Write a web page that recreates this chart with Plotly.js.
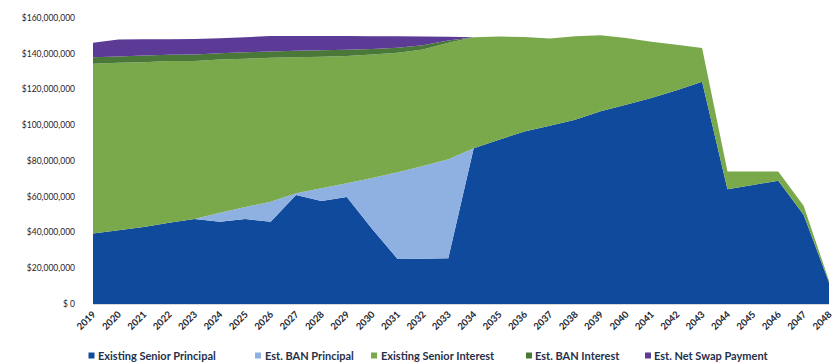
<!DOCTYPE html>
<html>
<head>
<meta charset="utf-8">
<script src="https://cdn.plot.ly/plotly-3.0.1.min.js"></script>
<style>
  html, body { margin: 0; padding: 0; background: #ffffff; }
  #chart { width: 835px; height: 362px; }
</style>
</head>
<body>
<div id="chart"></div>
<script>
// Annual debt service by component, in millions of dollars
const years = [2019, 2020, 2021, 2022, 2023, 2024, 2025, 2026, 2027, 2028,
               2029, 2030, 2031, 2032, 2033, 2034, 2035, 2036, 2037, 2038,
               2039, 2040, 2041, 2042, 2043, 2044, 2045, 2046, 2047, 2048];
const yearLabels = years.map(String);

const seniorPrincipal = [39.5, 41.3, 43.1, 45.4, 47.5, 46.0, 47.5, 46.0, 61.0, 57.6,
                         59.8, 42.0, 25.2, 25.3, 25.6, 87.2, 91.9, 96.5, 99.7, 103.1,
                         107.8, 111.5, 115.3, 119.6, 124.4, 64.2, 66.6, 69.0, 50.0, 12.0];
const banPrincipal    = [0, 0, 0, 0, 0, 5.0, 6.7, 11.2, 1.0, 7.1,
                         7.7, 28.5, 48.5, 51.9, 55.4, 0, 0, 0, 0, 0,
                         0, 0, 0, 0, 0, 0, 0, 0, 0, 0];
const seniorInterest  = [94.9, 93.6, 92.2, 90.5, 88.4, 85.8, 83.0, 80.5, 76.1, 73.6,
                         71.2, 69.1, 66.9, 65.2, 65.2, 62.1, 57.7, 52.9, 48.9, 46.7,
                         42.5, 37.3, 31.4, 25.4, 18.8, 9.9, 7.5, 5.1, 5.0, 1.0];
const banInterest     = [3.6, 3.6, 3.7, 3.5, 3.7, 3.5, 3.6, 3.6, 3.6, 3.6,
                         3.5, 3.0, 2.8, 2.3, 1.2, 0, 0, 0, 0, 0,
                         0, 0, 0, 0, 0, 0, 0, 0, 0, 0];
const netSwap         = [8.2, 9.5, 9.1, 8.7, 8.7, 8.4, 8.5, 8.6, 8.3, 8.1,
                         7.8, 7.2, 6.4, 5.0, 2.1, 0, 0, 0, 0, 0,
                         0, 0, 0, 0, 0, 0, 0, 0, 0, 0];

const yTickValues = [0, 20, 40, 60, 80, 100, 120, 140, 160];
const yTickLabels = ['$ 0', '$20,000,000', '$40,000,000', '$60,000,000', '$80,000,000',
                     '$100,000,000', '$120,000,000', '$140,000,000', '$160,000,000'];

const seriesNames = ['Existing Senior Principal', 'Est. BAN Principal',
                     'Existing Senior Interest', 'Est. BAN Interest', 'Est. Net Swap Payment'];
const seriesValues = [seniorPrincipal, banPrincipal, seniorInterest, banInterest, netSwap];
const seriesColors = ['#0f4a9c', '#8fb1e2', '#79a94b', '#497838', '#5b3b95'];

// page geometry (px)
const W = 835, H = 362;
const M = { l: 93, r: 6, t: 18, b: 58 };
const plotW = W - M.l - M.r, plotH = H - M.t - M.b;
const px2x = px => (px - M.l) / plotW;
const px2y = py => (H - M.b - py) / plotH;

// legend row: key square left edges and label starts, in px
const keyLeft = [88.5, 255, 371, 526, 645];
const labelLeft = [97, 263.5, 380, 534, 652.5];
const legendMid = 355.5;
const keySize = 6;

const traces = seriesValues.map((vals, i) => ({
  type: 'scatter',
  x: years,
  y: vals,
  name: seriesNames[i],
  stackgroup: 'debt',
  mode: 'none',
  fillcolor: seriesColors[i],
  line: { width: 0 },
  showlegend: false,
  hoverinfo: 'x+y+name'
}));

const legendShapes = seriesNames.map((_, i) => ({
  type: 'rect',
  xref: 'paper', yref: 'paper',
  x0: px2x(keyLeft[i]), x1: px2x(keyLeft[i] + keySize),
  y0: px2y(legendMid + keySize / 2), y1: px2y(legendMid - keySize / 2),
  fillcolor: seriesColors[i],
  line: { width: 0 }
}));

const legendLabels = seriesNames.map((name, i) => ({
  xref: 'paper', yref: 'paper',
  x: px2x(labelLeft[i]), y: px2y(legendMid),
  xanchor: 'left', yanchor: 'middle',
  text: name,
  showarrow: false,
  borderpad: 0,
  font: { size: 11, color: '#26304a', weight: 'bold' }
}));

const layout = {
  width: W,
  height: H,
  margin: M,
  paper_bgcolor: '#ffffff',
  plot_bgcolor: '#ffffff',
  showlegend: false,
  font: { family: 'Lato, "Open Sans", sans-serif', color: '#2a2f3a' },
  xaxis: {
    range: [2019, 2048],
    tickmode: 'array',
    tickvals: years,
    ticktext: yearLabels,
    tickangle: -45,
    tickfont: { size: 9.5, color: '#222631', weight: 'bold' },
    ticklabeloverflow: 'allow',
    showgrid: false,
    zeroline: false,
    showline: true,
    linecolor: '#d9d9d9',
    linewidth: 1,
    ticks: '',
    fixedrange: true
  },
  yaxis: {
    range: [0, 160],
    tickmode: 'array',
    tickvals: yTickValues,
    ticktext: yTickLabels,
    tickfont: { size: 8.5, color: '#1f232c' },
    ticklabelstandoff: 17,
    showgrid: false,
    zeroline: false,
    showline: false,
    ticks: '',
    fixedrange: true
  },
  shapes: legendShapes,
  annotations: legendLabels
};

Plotly.newPlot('chart', traces, layout, { displayModeBar: false, staticPlot: true });
</script>
</body>
</html>
